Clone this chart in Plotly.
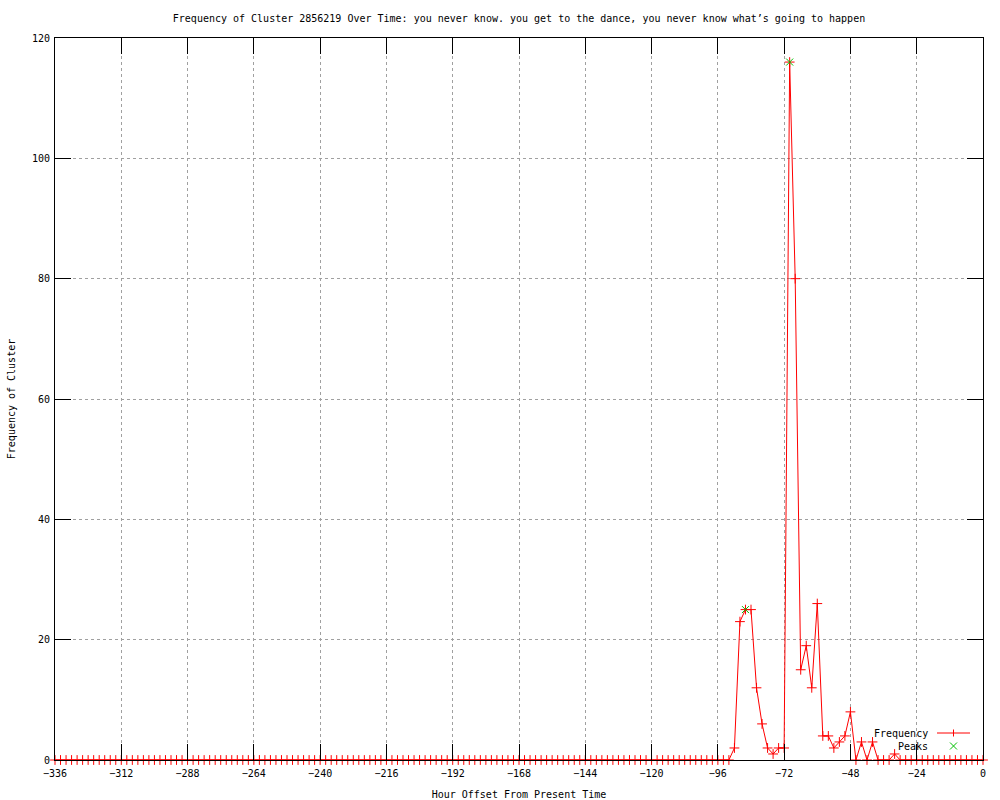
import plotly.graph_objects as go

# ---- data ----
hours = list(range(-336, 1, 2))  # hourly offsets, every 2 hours

frequency = [
    0, 0, 0, 0, 0, 0, 0, 0, 0, 0, 0, 0, 0, 0, 0, 0, 0, 0, 0, 0,   # -336 .. -298
    0, 0, 0, 0, 0, 0, 0, 0, 0, 0, 0, 0, 0, 0, 0, 0, 0, 0, 0, 0,   # -296 .. -258
    0, 0, 0, 0, 0, 0, 0, 0, 0, 0, 0, 0, 0, 0, 0, 0, 0, 0, 0, 0,   # -256 .. -218
    0, 0, 0, 0, 0, 0, 0, 0, 0, 0, 0, 0, 0, 0, 0, 0, 0, 0, 0, 0,   # -216 .. -178
    0, 0, 0, 0, 0, 0, 0, 0, 0, 0, 0, 0, 0, 0, 0, 0, 0, 0, 0, 0,   # -176 .. -138
    0, 0, 0, 0, 0, 0, 0, 0, 0, 0, 0, 0, 0, 0, 0, 0, 0, 0, 0, 0,   # -136 .. -98
    0, 0, 0,                                                       # -96 .. -92
    2, 23, 25, 25, 12, 6, 2, 1, 2, 2,                              # -90 .. -72
    116, 80, 15, 19, 12, 26, 4, 4, 2, 3,                           # -70 .. -52
    4, 8, 0, 3, 0, 3, 0, 0, 0, 1,                                  # -50 .. -32
    0, 0, 0, 0, 0, 0, 0, 0, 0, 0, 0, 0, 0, 0, 0, 0,                # -30 .. 0
]

peak_hours = [-86, -70]
peak_values = [25, 116]

x_ticks = [-336, -312, -288, -264, -240, -216, -192, -168, -144, -120, -96, -72, -48, -24, 0]
y_ticks = [0, 20, 40, 60, 80, 100, 120]

title_text = ("Frequency of Cluster 2856219 Over Time: you never know. you get to the dance, "
              "you never know what\u2019s going to happen")

FONT = "DejaVu Sans Mono"
RED = "#ff0000"
GREEN = "#00c000"

fig = go.Figure()

fig.add_trace(go.Scatter(
    x=hours, y=frequency, mode="lines+markers", name="Frequency",
    line=dict(color=RED, width=1),
    marker=dict(symbol="cross-thin", size=7, line=dict(color=RED, width=1), color=RED),
    cliponaxis=False, showlegend=False,
))
fig.add_trace(go.Scatter(
    x=peak_hours, y=peak_values, mode="markers", name="Peaks",
    marker=dict(symbol="x-thin", size=7, line=dict(color=GREEN, width=1), color=GREEN),
    cliponaxis=False, showlegend=False,
))

axis_common = dict(
    showline=True, linecolor="black", linewidth=1, mirror="allticks",
    ticks="inside", ticklen=16, tickwidth=1, tickcolor="black",
    showgrid=True, gridcolor="#a0a0a0", griddash="dot", gridwidth=1,
    zeroline=False, tickfont=dict(family=FONT, size=10, color="black"),
)

fig.update_xaxes(
    range=[-336, 0], tickmode="array", tickvals=x_ticks, ticklabelstandoff=4,
    title=dict(text="Hour Offset From Present Time", font=dict(family=FONT, size=10, color="black"), standoff=16),
    **axis_common,
)
fig.update_yaxes(
    range=[0, 120], tickmode="array", tickvals=y_ticks, ticklabelstandoff=2,
    title=dict(text="Frequency of Cluster", font=dict(family=FONT, size=10, color="black"), standoff=14),
    **axis_common,
)

# Legend drawn gnuplot-style (text left of sample), bottom-right inside plot
W, H = 1000, 800
L, R, T, B = 55, 17, 38, 40
pw, ph = W - L - R, H - T - B

def px(xp):
    return (xp - L) / pw

def py(yp):
    return 1 - (yp - T) / ph

shapes = []
shapes.append(dict(type="line", xref="paper", yref="paper", x0=px(937), x1=px(970), y0=py(733), y1=py(733),
                   line=dict(color=RED, width=1)))
shapes.append(dict(type="line", xref="paper", yref="paper", x0=px(953.5), x1=px(953.5), y0=py(729.5), y1=py(736.5),
                   line=dict(color=RED, width=1)))
shapes.append(dict(type="line", xref="paper", yref="paper", x0=px(950), x1=px(957), y0=py(742.5), y1=py(749.5),
                   line=dict(color=GREEN, width=1)))
shapes.append(dict(type="line", xref="paper", yref="paper", x0=px(950), x1=px(957), y0=py(749.5), y1=py(742.5),
                   line=dict(color=GREEN, width=1)))

annotations = [
    dict(text="Frequency", xref="paper", yref="paper", x=px(930), y=py(733), xanchor="right", yanchor="middle",
         showarrow=False, font=dict(family=FONT, size=10, color="black")),
    dict(text="Peaks", xref="paper", yref="paper", x=px(930), y=py(746), xanchor="right", yanchor="middle",
         showarrow=False, font=dict(family=FONT, size=10, color="black")),
]

fig.update_layout(
    width=W, height=H,
    margin=dict(l=L, r=R, t=T, b=B, autoexpand=False),
    paper_bgcolor="white", plot_bgcolor="white",
    title=dict(text=title_text, x=0.5, xref="paper", xanchor="center",
               y=1 - 18 / H, yref="container", yanchor="middle",
               font=dict(family=FONT, size=10, color="black")),
    font=dict(family=FONT, size=10, color="black"),
    shapes=shapes, annotations=annotations,
    showlegend=False,
)

fig.write_html("out.html", config={"displayModeBar": False},
               post_script="document.body.style.margin='0px';")
